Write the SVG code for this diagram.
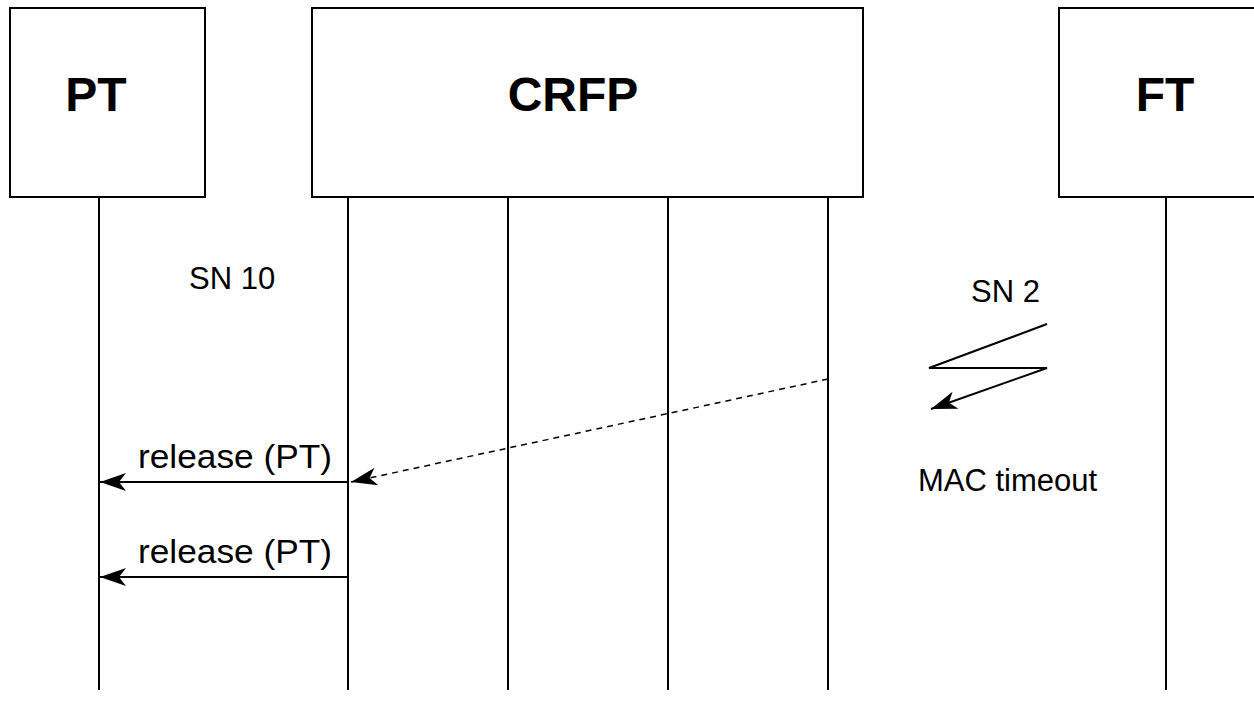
<svg xmlns="http://www.w3.org/2000/svg" width="1254" height="718" viewBox="0 0 1254 718">
<style>
.box{fill:#fff;stroke:#000;stroke-width:2}
.life{stroke:#000;stroke-width:2;fill:none}
.msg{stroke:#000;stroke-width:2;fill:none}
.dash{stroke:#000;stroke-width:1.5;fill:none;stroke-dasharray:6 5}
.title{font-family:"Liberation Sans",Arial,sans-serif;font-weight:bold;font-size:48px;fill:#000}
.lbl{font-family:"Liberation Sans",Arial,sans-serif;font-size:31px;fill:#000}
.rel{font-family:"Liberation Sans",Arial,sans-serif;font-size:34px;fill:#000}
</style>
<defs>
<marker id="arr" viewBox="-27 -10 28 20" refX="0" refY="0" markerWidth="28" markerHeight="20" markerUnits="userSpaceOnUse" orient="auto">
<path d="M0,0 L-26,-9 L-19,0 L-26,9 Z" fill="#000"/>
</marker>
</defs>
<rect width="1254" height="718" fill="#fff"/>
<g id="PT">
<rect class="box" x="10" y="8" width="195" height="189"/>
<text class="title" x="96" y="111" text-anchor="middle">PT</text>
<line class="life" x1="99" y1="197" x2="99" y2="690"/>
</g>
<g id="CRFP">
<rect class="box" x="312" y="8" width="551" height="189"/>
<text class="title" x="573" y="111" text-anchor="middle">CRFP</text>
<line class="life" x1="348" y1="197" x2="348" y2="690"/>
<line class="life" x1="508" y1="197" x2="508" y2="690"/>
<line class="life" x1="668" y1="197" x2="668" y2="690"/>
<line class="life" x1="828" y1="197" x2="828" y2="690"/>
</g>
<g id="FT">
<rect class="box" x="1059" y="8" width="200" height="189"/>
<text class="title" x="1165" y="111" text-anchor="middle">FT</text>
<line class="life" x1="1166" y1="197" x2="1166" y2="690"/>
</g>
<g id="labels">
<text class="lbl" x="189" y="289">SN 10</text>
<text class="lbl" x="971" y="302">SN 2</text>
<text class="lbl" x="918" y="491">MAC timeout</text>
<text class="rel" x="138" y="468" textLength="194" lengthAdjust="spacingAndGlyphs">release (PT)</text>
<text class="rel" x="138" y="563" textLength="194" lengthAdjust="spacingAndGlyphs">release (PT)</text>
</g>
<g id="connectors">
<line class="msg" x1="348" y1="482" x2="100" y2="482" marker-end="url(#arr)"/>
<line class="msg" x1="348" y1="577" x2="100" y2="577" marker-end="url(#arr)"/>
<line class="dash" x1="828" y1="379" x2="351" y2="482" marker-end="url(#arr)"/>
<polyline class="msg" points="1047,324 929,368 1047,368 931,409" marker-end="url(#arr)"/>
</g>
</svg>
